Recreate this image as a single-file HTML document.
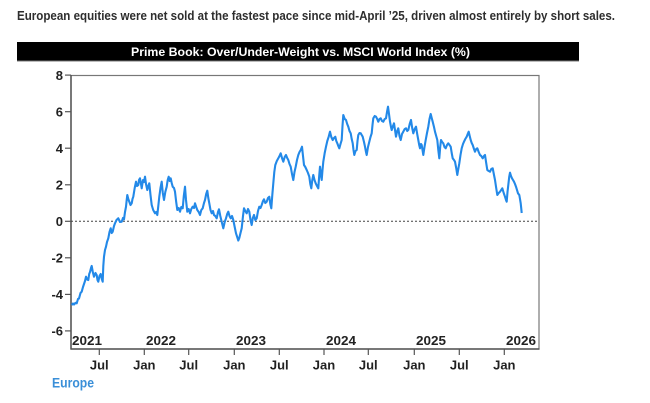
<!DOCTYPE html>
<html>
<head>
<meta charset="utf-8">
<style>
html,body{margin:0;padding:0;background:#fff;}
svg{display:block;}
text{font-family:"Liberation Sans",sans-serif;font-weight:bold;}
</style>
</head>
<body>
<svg width="650" height="403" viewBox="0 0 650 403" xmlns="http://www.w3.org/2000/svg">
<rect width="650" height="403" fill="#fff"/>
<text x="17" y="20" font-size="12.5" fill="#2e2e2e" textLength="598" lengthAdjust="spacingAndGlyphs">European equities were net sold at the fastest pace since mid-April ’25, driven almost entirely by short sales.</text>
<rect x="17" y="42" width="562" height="19" fill="#000"/>
<line x1="17" y1="61" x2="579" y2="61" stroke="#777" stroke-width="1"/>
<text x="131" y="56" font-size="12" fill="#fff" textLength="339" lengthAdjust="spacingAndGlyphs">Prime Book: Over/Under-Weight vs. MSCI World Index (%)</text>

<!-- frame -->
<rect x="71" y="75.5" width="468" height="273.5" fill="none" stroke="#777" stroke-width="1.2"/>
<line x1="71" y1="75" x2="71" y2="349.5" stroke="#555" stroke-width="1.5"/>
<line x1="70.5" y1="349" x2="539.5" y2="349" stroke="#555" stroke-width="1.5"/>

<!-- zero line -->
<line x1="71" y1="221.3" x2="539" y2="221.3" stroke="#444" stroke-width="1" stroke-dasharray="2,2"/>

<!-- y ticks -->
<g stroke="#555" stroke-width="1.2">
<line x1="65" y1="75.1" x2="71" y2="75.1"/>
<line x1="65" y1="111.7" x2="71" y2="111.7"/>
<line x1="65" y1="148.2" x2="71" y2="148.2"/>
<line x1="65" y1="184.8" x2="71" y2="184.8"/>
<line x1="65" y1="221.3" x2="71" y2="221.3"/>
<line x1="65" y1="257.8" x2="71" y2="257.8"/>
<line x1="65" y1="294.4" x2="71" y2="294.4"/>
<line x1="65" y1="330.9" x2="71" y2="330.9"/>
</g>
<g font-size="13" fill="#222" text-anchor="end">
<text x="63" y="79.8">8</text>
<text x="63" y="116.4">6</text>
<text x="63" y="152.9">4</text>
<text x="63" y="189.5">2</text>
<text x="63" y="226">0</text>
<text x="63" y="262.5">-2</text>
<text x="63" y="299.1">-4</text>
<text x="63" y="335.6">-6</text>
</g>

<!-- x ticks -->
<g stroke="#555" stroke-width="1.2">
<line x1="99.3" y1="349" x2="99.3" y2="355"/>
<line x1="144.3" y1="349" x2="144.3" y2="355"/>
<line x1="188.7" y1="349" x2="188.7" y2="355"/>
<line x1="234.3" y1="349" x2="234.3" y2="355"/>
<line x1="279.3" y1="349" x2="279.3" y2="355"/>
<line x1="324" y1="349" x2="324" y2="355"/>
<line x1="368.3" y1="349" x2="368.3" y2="355"/>
<line x1="414.3" y1="349" x2="414.3" y2="355"/>
<line x1="459.3" y1="349" x2="459.3" y2="355"/>
<line x1="504.3" y1="349" x2="504.3" y2="355"/>
</g>
<g font-size="13" fill="#222" text-anchor="middle">
<text x="99.3" y="369.5">Jul</text>
<text x="144.3" y="369.5">Jan</text>
<text x="188.7" y="369.5">Jul</text>
<text x="234.3" y="369.5">Jan</text>
<text x="279.3" y="369.5">Jul</text>
<text x="324" y="369.5">Jan</text>
<text x="368.3" y="369.5">Jul</text>
<text x="414.3" y="369.5">Jan</text>
<text x="459.3" y="369.5">Jul</text>
<text x="504.3" y="369.5">Jan</text>
</g>
<g font-size="13" fill="#222">
<text x="72" y="345" textLength="30" lengthAdjust="spacingAndGlyphs">2021</text>
<text x="146" y="345" textLength="30" lengthAdjust="spacingAndGlyphs">2022</text>
<text x="236" y="345" textLength="30" lengthAdjust="spacingAndGlyphs">2023</text>
<text x="326" y="345" textLength="30" lengthAdjust="spacingAndGlyphs">2024</text>
<text x="416" y="345" textLength="30" lengthAdjust="spacingAndGlyphs">2025</text>
<text x="506" y="345" textLength="30" lengthAdjust="spacingAndGlyphs">2026</text>
</g>

<text x="52" y="387.5" font-size="14" fill="#3a8fd8" textLength="42" lengthAdjust="spacingAndGlyphs">Europe</text>

<!-- series -->
<polyline fill="none" stroke="#2389e8" stroke-width="2.1" stroke-linejoin="round" points="
71.7,305 73,303.5 74,304.5 75.5,302.8 76.7,303.3 78,299 79,298.5 80.5,293 81.7,291.7 83,287 84,284 85,281 86,276.7 87.2,279.5 88.3,280 89.2,274 90,272 91,268 91.7,266 92.8,272 94,276.7 95.5,273 96.7,275 97.5,280 98.3,281.7 99.5,276 100.7,274 101.8,279 102.7,281.7 103.3,266 104,256.7 105,250 106,246.7 107,242 108.3,238.3 109.5,232 110.7,228.3 111.7,233 112.7,231.7 114,226 115,223.3 116.5,220 118.3,218.3 120,222 121.7,221.7 123,218 124,219.3 125,212 126,206.7 126.7,200 127.3,195 128.3,199 129.3,201.7 130.5,205 131.7,203.3 132.5,199 133.3,196.7 134.7,188 136,181.7 137,186 138.3,185 139,180 140,178.3 141,184 141.7,188.3 142.5,183 143,180 144,182 145,176.7 146,184 147.3,190 148.3,186 149.3,183.3 150.5,195 151.7,205 153.2,210 155,213.3 156.2,212 157.3,215 158.3,206 159.3,196.7 160.5,188 161.7,181.7 162.8,193 164,200 165.3,192 166.7,186.7 167.7,180 168.7,176.7 169.7,181 170.7,178.3 171.7,183 172.7,186.7 174,188 175,191.7 176.2,202 177.3,210 178.7,208 180,211.7 181.3,207 182.7,208.3 183.8,196 185,186.7 186,200 187.3,211.7 188.7,209 190,213.3 191.3,209 192.7,206.7 194,208 195,203.3 196.2,207 197.3,210 198.7,212 200,215 201.3,210 202.7,208.3 204,203 205,200 206.2,194 207.3,190.7 208.3,198 209.3,203.3 210.5,210 211.7,213.3 213,211 214,215 215.3,216 216.7,218.3 218,212 219,209.3 220.3,216 221.7,221.7 222.5,225 223.3,228.3 224.7,222 226,218.3 227.2,214 228.3,211.7 229.5,216 230.7,218.3 232,216 233.3,220 234.7,227 236,233.3 237.2,237 238.3,240.5 239.3,238 240.5,233 241.7,228.3 243,216 244,208.3 245.3,211 246.7,213.3 248,209 249.3,211.7 250.5,220 251.7,225 252.8,218 254,215 255.3,220 256.7,218.3 258,211 259.3,206.7 260.5,208 261.7,205 263,201 264,199.3 265.3,203 266.7,201.7 268,198 269.3,196.7 270.3,204 271.3,208.3 272.3,195 273.3,183.3 274.3,172 275.3,165 276.8,161 278.3,158.3 279.5,156 280.7,153.3 282,158 283.3,161.7 284.7,157 286,155 287.2,158 288.3,160 289.5,164 290.7,166.7 292,174 293.3,180 294.5,172 295.7,166.7 297,160 298.3,155 299.5,152 300.7,150 302,146.7 303,156 304,165 305.3,167 306.7,170 308,173 309.3,176.7 310.3,184 311.3,188.3 312.3,180 313.3,175 314.5,180 315.7,183.3 317,186 318.3,188.3 319.2,176 320,166.7 320.8,174 321.7,180 322.5,170 323.3,161.7 324.7,153 326,146.7 327.3,141 328.7,136.7 330,131.7 331.3,137 332.7,140 334,138 335.3,136.7 336.3,141 337.3,143.3 338.3,146 339.3,148.3 340.5,144 341.7,140 342.5,126 343.3,115 344.7,119 346,120 347.2,124 348.3,126.7 349.5,131 350.7,133.3 351.7,139 352.7,143.3 353.5,150 354.3,155 355.5,151 356.7,150 357.5,141 358.3,135 359.5,133 360.7,133.3 361.7,135 362.7,136.7 364,142 365,146.7 366,152 366.7,155 368,147 369.3,141.7 370.5,137 371.7,133.3 372.5,125 373.3,118.3 374.7,116 376,116.7 377.2,119 378.3,121.7 379.5,119 380.7,118.3 382,121 383.3,121.7 384.7,119 386,118.3 387,112 388,106.7 389,114 390,121.7 391,127 391.7,130 393,126 394,123.3 395,130 396,136.7 397.2,131 398.3,128.3 399.5,136 400.7,140 402,134 403.3,131.7 404.7,129 406,128.3 407.2,131 408.3,130 409.7,124 411,120 412.2,128 413.3,133.3 414.7,129 416,126.7 417.2,134 418.3,140 419.2,145 420,148.3 421,144 421.7,145 422.5,150 423.3,155 424.5,147 425.7,140 427,133 428.3,126.7 429.5,119 430.7,114 431.7,118 432.7,121.7 434,127 435,131.7 436.2,136 437.3,140 438.3,150 439.3,158.3 440.2,147 441,140 442.2,142 443.3,143.3 444.5,147 445.7,148.3 447,145 448.3,143.3 449.5,145 450.7,146.7 451.7,153 452.7,158.3 454,160 455,161.7 456.2,168 457.3,175 458.3,169 459.3,163.3 460.5,155 461.7,148.3 463,144 464,141.7 465.3,139 466.7,136.7 467.7,134 468.7,131.7 469.7,136 470.7,140 471.7,143 472.7,145 474,149 475,151.7 476.2,149 477.3,148.3 478.7,152 480,155 481.3,156 482.7,158.3 484,156 485,155 486.2,163 487.3,170 488.7,171 490,171.7 491.3,169 492.7,168.3 494,175 495,180 496.2,188 497.3,195 498.7,193 500,191.7 501.2,190 502.3,188.3 503.7,193 505,196.7 506,200 506.7,201.7 507.5,192 508.3,185 509.2,177 510,172.7 511,176 512,178.3 513,180 514,181.7 515,184 516,186.7 517,190 518,193.3 519.3,195 520,199 520.7,203.3 521.2,208 521.7,213"/>
</svg>
</body>
</html>
